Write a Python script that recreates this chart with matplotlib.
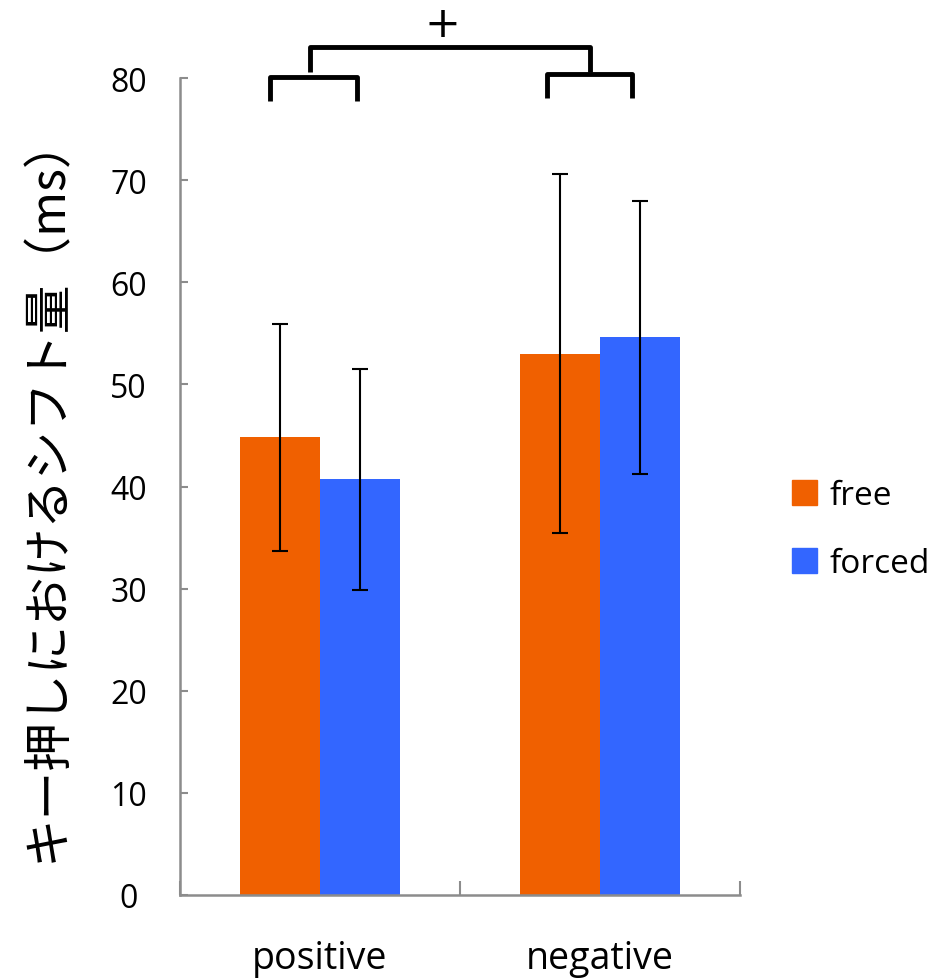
import matplotlib
matplotlib.use('Agg')
import matplotlib.pyplot as plt
from matplotlib.patches import Patch
import numpy as np

categories = ['positive', 'negative']
series = ['free', 'forced']
free_vals = [44.8, 53.0]
forced_vals = [40.7, 54.6]
free_err = [11.1, 17.6]
forced_err = [10.8, 13.4]
colors = ['#f06000', '#3366ff']
ylabel = 'キー押しにおけるシフト量（ms）'

plt.rcParams['font.family'] = ['Open Sans', 'DejaVu Sans']

fig = plt.figure(figsize=(9.45, 9.79), dpi=100)
ax = fig.add_axes([180 / 945, 83 / 979, 560 / 945, 817 / 979])

x = np.arange(len(categories))
w = 80 / 280
ax.bar(x - w / 2, free_vals, w, color=colors[0], yerr=free_err,
       error_kw=dict(ecolor='black', elinewidth=1.5, capsize=6, capthick=1.5))
ax.bar(x + w / 2, forced_vals, w, color=colors[1], yerr=forced_err,
       error_kw=dict(ecolor='black', elinewidth=1.5, capsize=6, capthick=1.5))

ax.set_xlim(-0.5, 1.5)
ax.set_ylim(0, 80)
ax.set_yticks(range(0, 81, 10))
ax.set_xticks([-0.5, 0.5, 1.5])
ax.set_xticklabels([])
ax.tick_params(axis='y', direction='in', length=6, width=1.5, color='#8c8c8c',
               labelsize=23, pad=37)
ax.tick_params(axis='x', direction='in', length=10, width=1.5, color='#8c8c8c')
for lab in ax.get_yticklabels():
    lab.set_horizontalalignment('center')
for s in ['top', 'right']:
    ax.spines[s].set_visible(False)
for s in ['left', 'bottom']:
    ax.spines[s].set_color('#8c8c8c')
    ax.spines[s].set_linewidth(1.8)

for i, c in enumerate(categories):
    ax.text(x[i], -6.2, c, ha='center', va='center', fontsize=27)

ax.set_ylabel(ylabel, fontsize=35, family=['Noto Sans CJK JP', 'DejaVu Sans'])
ax.yaxis.set_label_coords(-0.193, 0.5)

# significance brackets
def bracket(x0, x1, ybar, ylow):
    ax.plot([x0, x0, x1, x1], [ylow, ybar, ybar, ylow], color='black', lw=3.5,
            clip_on=False, solid_joinstyle='round', solid_capstyle='butt')

bracket(-0.179, 0.132, 80.1, 77.7)
bracket(0.811, 1.114, 80.4, 78.0)
bracket(-0.036, 0.964, 83.0, 80.6)
ax.text(0.439, 85.3, '+', ha='center', va='center', fontsize=31,
        family='DejaVu Sans')

handles = [Patch(color=colors[0]), Patch(color=colors[1])]
ax.legend(handles, series, loc='center left', bbox_to_anchor=(1.04, 0.447),
          frameon=False, fontsize=24, handlelength=0.75, handleheight=0.75,
          handletextpad=0.35, labelspacing=1.05)

fig.savefig('out.png', dpi=100)
